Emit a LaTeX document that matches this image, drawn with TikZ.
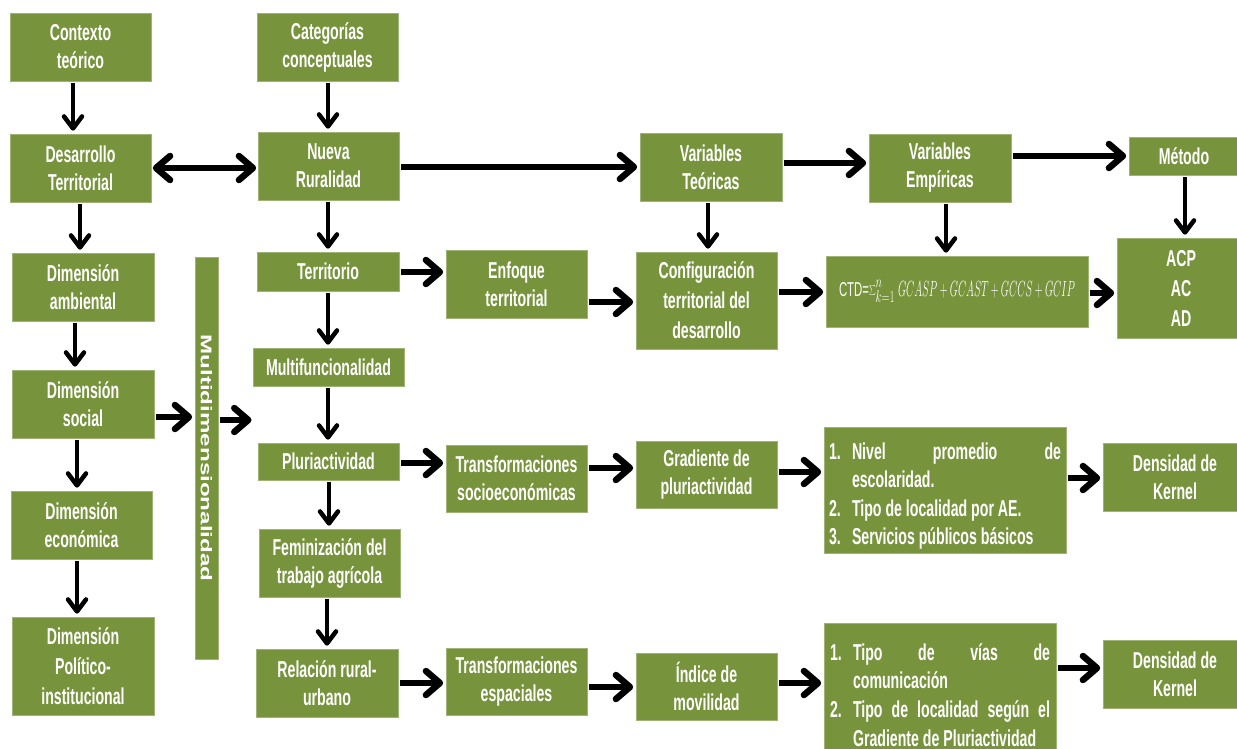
\documentclass[tikz,border=0pt]{standalone}
\usepackage{fontspec}
\setmainfont{Liberation Sans}
\newfontfamily\boxfont{Liberation Sans}[FakeStretch=0.615]
\newfontfamily\barfont{Liberation Sans}[FakeStretch=1.56]
\usetikzlibrary{arrows.meta}
\definecolor{boxgreen}{RGB}{119,147,60}
\newcommand{\litem}[1]{\par\hangindent=23pt\hangafter=1\noindent\makebox[23pt][l]{#1}}
\begin{document}
\begin{tikzpicture}[x=1pt,y=-1pt,
  box/.style={fill=boxgreen, draw=boxgreen!70!white, line width=0.6pt, text=white,
    font=\boxfont\bfseries\fontsize{23}{28}\selectfont, align=center, inner sep=0pt,
    minimum width=141pt, minimum height=68pt},
  harrow/.style={line width=6.5pt, -{Straight Barb[length=14pt,width=24pt,round]},
    shorten <=1.5pt, shorten >=2.5pt},
  dharrow/.style={line width=6.5pt, {Straight Barb[length=14pt,width=24pt,round]}-{Straight Barb[length=14pt,width=24pt,round]},
    shorten <=1.5pt, shorten >=1.5pt},
  varrow/.style={line width=4.5pt, -{Straight Barb[length=12pt,width=18pt,round]},
    shorten <=2pt, shorten >=3pt}]
\useasboundingbox (0,0) rectangle (1237,749);
\clip (0,0) rectangle (1237,749);

% top rows
\node[box] (ctx) at (80.5,47) {Contexto\\teórico};
\node[box] (cat) at (327.5,47) {Categorías\\conceptuales};
\node[box] (des) at (80.5,168) {Desarrollo\\Territorial};
\node[box] (nue) at (328.5,166) {Nueva\\Ruralidad};
\node[box, minimum width=142pt] (vt) at (711,167) {Variables\\Teóricas};
\node[box, minimum width=142pt] (ve) at (940,168) {Variables\\Empíricas};
\node[box, minimum width=110pt, minimum height=38pt] (met) at (1184,156) {Método};
\node[box, minimum width=128pt, minimum height=100pt] (acp) at (1181,288) {ACP\\[2pt]AC\\[2pt]AD};

% left column
\node[box, minimum width=142pt] (dam) at (83,287) {Dimensión\\ambiental};
\node[box, minimum width=142pt] (dso) at (83,404) {Dimensión\\social};
\node[box] (dec) at (81.5,525) {Dimensión\\económica};
\node[box, minimum width=142pt, minimum height=98pt] (dpo) at (83,666) {Dimensión\\[2pt]Político-\\[2pt]institucional};

% bar
\node[fill=boxgreen, draw=boxgreen!70!white, line width=0.6pt, text=white, inner sep=0pt,
  minimum width=23pt, minimum height=402pt] (bar) at (206.5,458)
  {\rotatebox{-90}{\barfont\bfseries\fontsize{15.5}{18}\selectfont Multidimensionalidad}};

% central column
\node[box, minimum width=142pt, minimum height=39pt] (ter) at (328,271.5) {Territorio};
\node[box, minimum width=151pt, minimum height=38pt] (mul) at (328.5,367) {Multifuncionalidad};
\node[box, minimum height=37pt] (plu) at (328.5,461.5) {Pluriactividad};
\node[box] (fem) at (329.5,563) {Feminización del\\trabajo agrícola};
\node[box, minimum width=142pt] (rel) at (327,683) {Relación rural-\\urbano};

\node[box] (enf) at (516.5,284) {Enfoque\\territorial};
\node[box, minimum height=67pt] (tso) at (516.5,478.5) {Transformaciones\\socioeconómicas};
\node[box, minimum height=67pt] (tes) at (516.5,681.5) {Transformaciones\\espaciales};

\node[box, minimum height=97pt] (cfg) at (706.5,300.5) {Configuración\\[2pt]territorial del\\[2pt]desarrollo};
\node[box, minimum height=67pt] (gra) at (706.5,474.5) {Gradiente de\\pluriactividad};
\node[box, minimum height=67pt] (ind) at (706.5,686.5) {Índice de\\movilidad};

\node[box, minimum width=262pt, minimum height=71pt] (ctd) at (957,291.5)
  {\resizebox{30pt}{14pt}{\mdseries CTD=}\resizebox*{26pt}{22pt}{$\textstyle\sum_{k=1}^{n}$}\hspace{3pt}\resizebox{177pt}{15pt}{$GCASP + GCAST + GCCS + GCIP$}};

\node[box, align=justify, text width=232pt, minimum width=242pt, minimum height=126pt, inner xsep=5pt] (ls1) at (945,490)
  {\fontsize{23}{28.5}\selectfont\parindent=0pt
   \litem{1.}Nivel promedio de\linebreak escolaridad.
   \litem{2.}Tipo de localidad por AE.
   \litem{3.}Servicios públicos básicos\par};
\node[box, align=justify, text width=220pt, minimum width=232pt, minimum height=132pt, inner xsep=6pt] (ls2) at (940,689)
  {\fontsize{23}{28.7}\selectfont\parindent=0pt
   \litem{1.}Tipo de vías de\linebreak comunicación
   \litem{2.}Tipo de localidad según el\linebreak Gradiente de Pluriactividad\par};

\node[box, minimum width=144pt] (dk1) at (1175,477) {Densidad de\\Kernel};
\node[box, minimum width=144pt] (dk2) at (1175,674) {Densidad de\\Kernel};

\coordinate (mdend) at (254,420);

% arrows
\draw[varrow] (73,0 |- ctx.south) -- (73,0 |- des.north);
\draw[varrow] (328,0 |- cat.south) -- (328,0 |- nue.north);
\draw[dharrow] (des.east |- 0,168) -- (nue.west |- 0,168);
\draw[harrow] (nue.east |- 0,167) -- (vt.west |- 0,167);
\draw[harrow] (vt.east |- 0,163) -- (ve.west |- 0,163);
\draw[harrow] (ve.east |- 0,156) -- (met.west |- 0,156);
\draw[varrow] (80,0 |- des.south) -- (80,0 |- dam.north);
\draw[varrow] (328,0 |- nue.south) -- (328,0 |- ter.north);
\draw[varrow] (708,0 |- vt.south) -- (708,0 |- cfg.north);
\draw[varrow] (946,0 |- ve.south) -- (946,0 |- ctd.north);
\draw[varrow] (1185,0 |- met.south) -- (1185,0 |- acp.north);
\draw[harrow] (ter.east |- 0,272) -- (enf.west |- 0,272);
\draw[harrow] (enf.east |- 0,302) -- (cfg.west |- 0,302);
\draw[harrow] (cfg.east |- 0,292) -- (ctd.west |- 0,292);
\draw[harrow] (ctd.east |- 0,293) -- (acp.west |- 0,293);
\draw[varrow] (75,0 |- dam.south) -- (75,0 |- dso.north);
\draw[varrow] (77,0 |- dso.south) -- (77,0 |- dec.north);
\draw[varrow] (77,0 |- dec.south) -- (77,0 |- dpo.north);
\draw[harrow] (dso.east |- 0,417) -- (bar.west |- 0,417);
\draw[harrow] (bar.east |- 0,420) -- (mdend);
\draw[varrow] (328,0 |- ter.south) -- (328,0 |- mul.north);
\draw[varrow] (328,0 |- mul.south) -- (328,0 |- plu.north);
\draw[varrow] (329,0 |- plu.south) -- (329,0 |- fem.north);
\draw[varrow] (327,0 |- fem.south) -- (327,0 |- rel.north);
\draw[harrow] (plu.east |- 0,463) -- (tso.west |- 0,463);
\draw[harrow] (tso.east |- 0,468) -- (gra.west |- 0,468);
\draw[harrow] (gra.east |- 0,472) -- (ls1.west |- 0,472);
\draw[harrow] (ls1.east |- 0,478) -- (dk1.west |- 0,478);
\draw[harrow] (rel.east |- 0,683) -- (tes.west |- 0,683);
\draw[harrow] (tes.east |- 0,687) -- (ind.west |- 0,687);
\draw[harrow] (ind.east |- 0,683) -- (ls2.west |- 0,683);
\draw[harrow] (ls2.east |- 0,668) -- (dk2.west |- 0,668);
\end{tikzpicture}
\end{document}
